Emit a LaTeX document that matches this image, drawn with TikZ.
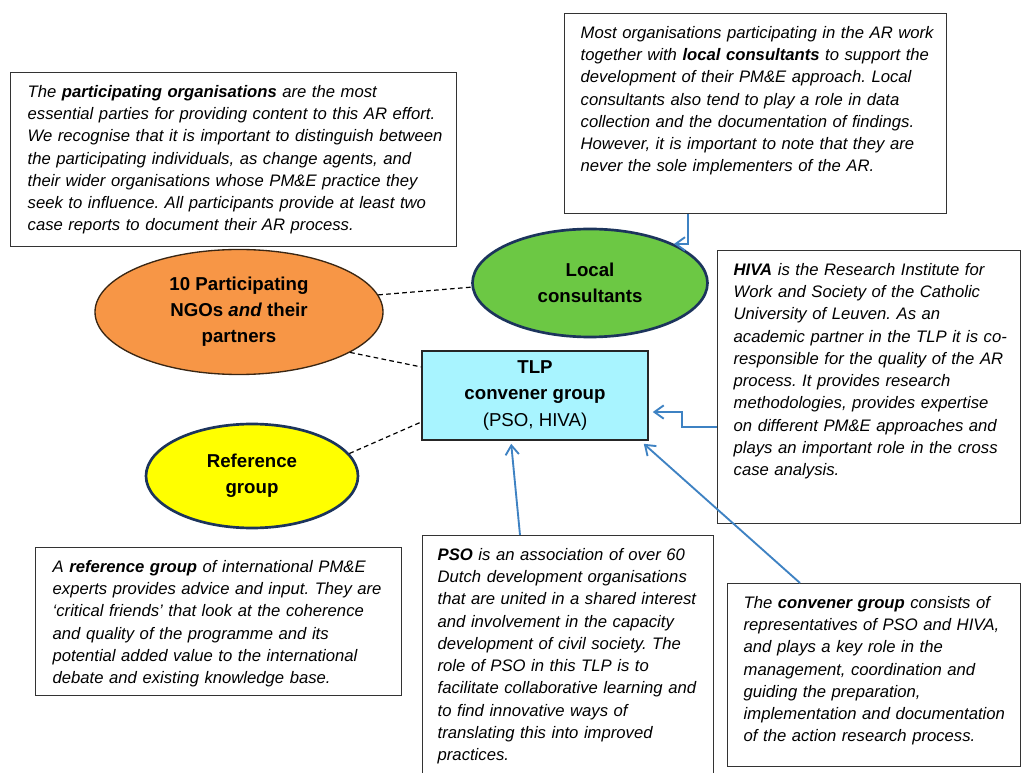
\documentclass[tikz,border=0pt]{standalone}
\usepackage{fontspec}
\setmainfont{Liberation Sans}
\usetikzlibrary{shapes.geometric,arrows.meta}
\frenchspacing

\definecolor{partyorange}{RGB}{247,150,70}
\definecolor{partygreen}{RGB}{108,200,68}
\definecolor{partyyellow}{RGB}{255,255,0}
\definecolor{tlpcyan}{RGB}{168,244,255}
\definecolor{ellnavy}{RGB}{28,52,92}
\definecolor{arrowblue}{RGB}{62,130,195}

\begin{document}
\begin{tikzpicture}[x=0.75pt,y=0.75pt,yscale=-1,xscale=1,
    notebox/.style={draw=black!80, line width=1pt, fill=white, anchor=north west, align=left, inner ysep=8pt, text height=10.5pt, font=\itshape\fontsize{12.5}{16.7}\selectfont, execute at begin node={\rightskip=-30pt plus 1fil\relax}},
    partyell/.style={ellipse, draw=ellnavy, line width=2pt, inner sep=0pt, align=center, font=\bfseries\fontsize{14}{19.5}\selectfont},
    linkdash/.style={black, line width=0.9pt, dash pattern=on 3.5pt off 2.5pt},
    feedarrow/.style={draw=arrowblue, line width=1.4pt, -{Straight Barb[length=7pt,width=10pt]}}]
    %set diagram left start at 0, and has height of 773
    \path [use as bounding box, fill=white] (0,0) rectangle (1022,773);

    % Text Node
    \draw (10,72) node [notebox, inner xsep=12.75pt, text width=309pt, text depth=104pt] (orgnote) {The \textbf{participating organisations} are the most\\
    essential parties for providing content to this AR effort.\\
    We recognise that it is important to distinguish between\\
    the participating individuals, as change agents, and\\
    their wider organisations whose PM\&E practice they\\
    seek to influence. All participants provide at least two\\
    case reports to document their AR process.};
    % Text Node
    \draw (564,13) node [notebox, inner xsep=12pt, text width=262.5pt, text depth=123.5pt] (lcnote) {Most organisations participating in the AR work\\
    together with \textbf{local consultants} to support the\\
    development of their PM\&E approach. Local\\
    consultants also tend to play a role in data\\
    collection and the documentation of findings.\\
    However, it is important to note that they are\\
    never the sole implementers of the AR.};
    % Text Node
    \draw (717,250) node [notebox, inner xsep=12pt, text width=203.25pt, text depth=178.25pt] (hivanote) {\textbf{HIVA} is the Research Institute for\\
    Work and Society of the Catholic\\
    University of Leuven. As an\\
    academic partner in the TLP it is co-\\
    responsible for the quality of the AR\\
    process. It provides research\\
    methodologies, provides expertise\\
    on different PM\&E approaches and\\
    plays an important role in the cross\\
    case analysis.};
    % Text Node
    \draw (35,547) node [notebox, inner xsep=12.75pt, text width=249pt, text depth=84.5pt] (refnote) {A \textbf{reference group} of international PM\&E\\
    experts provides advice and input. They are\\
    ‘critical friends’ that look at the coherence\\
    and quality of the programme and its\\
    potential added value to the international\\
    debate and existing knowledge base.};
    % Text Node
    \draw (422,535) node [notebox, inner xsep=11.25pt, text width=195.75pt, text depth=172.25pt] (psonote) {\textbf{PSO} is an association of over 60\\
    Dutch development organisations\\
    that are united in a shared interest\\
    and involvement in the capacity\\
    development of civil society. The\\
    role of PSO in this TLP is to\\
    facilitate collaborative learning and\\
    to find innovative ways of\\
    translating this into improved\\
    practices.};
    % Text Node
    \draw (727,583) node [notebox, inner xsep=12pt, text width=195.75pt, text depth=110.75pt] (convnote) {The \textbf{convener group} consists of\\
    representatives of PSO and HIVA,\\
    and plays a key role in the\\
    management, coordination and\\
    guiding the preparation,\\
    implementation and documentation\\
    of the action research process.};

    %Shape: Ellipse
    \draw (239,312) node [partyell, draw=black!70!brown, line width=1pt, fill=partyorange, minimum width=216pt, minimum height=93.75pt] (orng) {10 Participating\\NGOs \textit{and} their\\partners};
    %Shape: Ellipse
    \draw (590,283) node [partyell, fill=partygreen, minimum width=176.25pt, minimum height=81pt] (lcons) {Local\\consultants};
    %Shape: Ellipse
    \draw (252,476) node [partyell, fill=partyyellow, minimum width=159pt, minimum height=78pt] (refg) {Reference\\group};
    %Shape: Rectangle
    \draw (535,395.5) node [draw=black!85, line width=1.2pt, fill=tlpcyan, minimum width=169.5pt, minimum height=66.75pt, inner sep=0pt, align=center, font=\bfseries\fontsize{14}{20}\selectfont] (tlp) {TLP\\convener group\\{\mdseries (PSO, HIVA)}};

    % dashed links
    \draw [linkdash] (orng.7) -- (lcons.182);
    \draw [linkdash] (orng.-20) -- ([yshift=-21.4pt]tlp.west);
    \draw [linkdash] (refg.13) -- ([yshift=19.9pt]tlp.west);

    % arrows into the convener group
    \draw [feedarrow] ([xshift=93pt]lcnote.south west) |- (lcons.north east);
    \draw [feedarrow] ([yshift=29.6pt]hivanote.west) -- ++(-35,0) |- ([xshift=3pt,yshift=12.4pt]tlp.east);
    \draw [feedarrow] ([xshift=73.5pt]psonote.north west) -- ([xshift=67.5pt,yshift=2.25pt]tlp.south west);
    \draw [feedarrow] ([xshift=54.75pt]convnote.north west) -- ([xshift=-3.75pt,yshift=2.25pt]tlp.south east);

\end{tikzpicture}
\end{document}
